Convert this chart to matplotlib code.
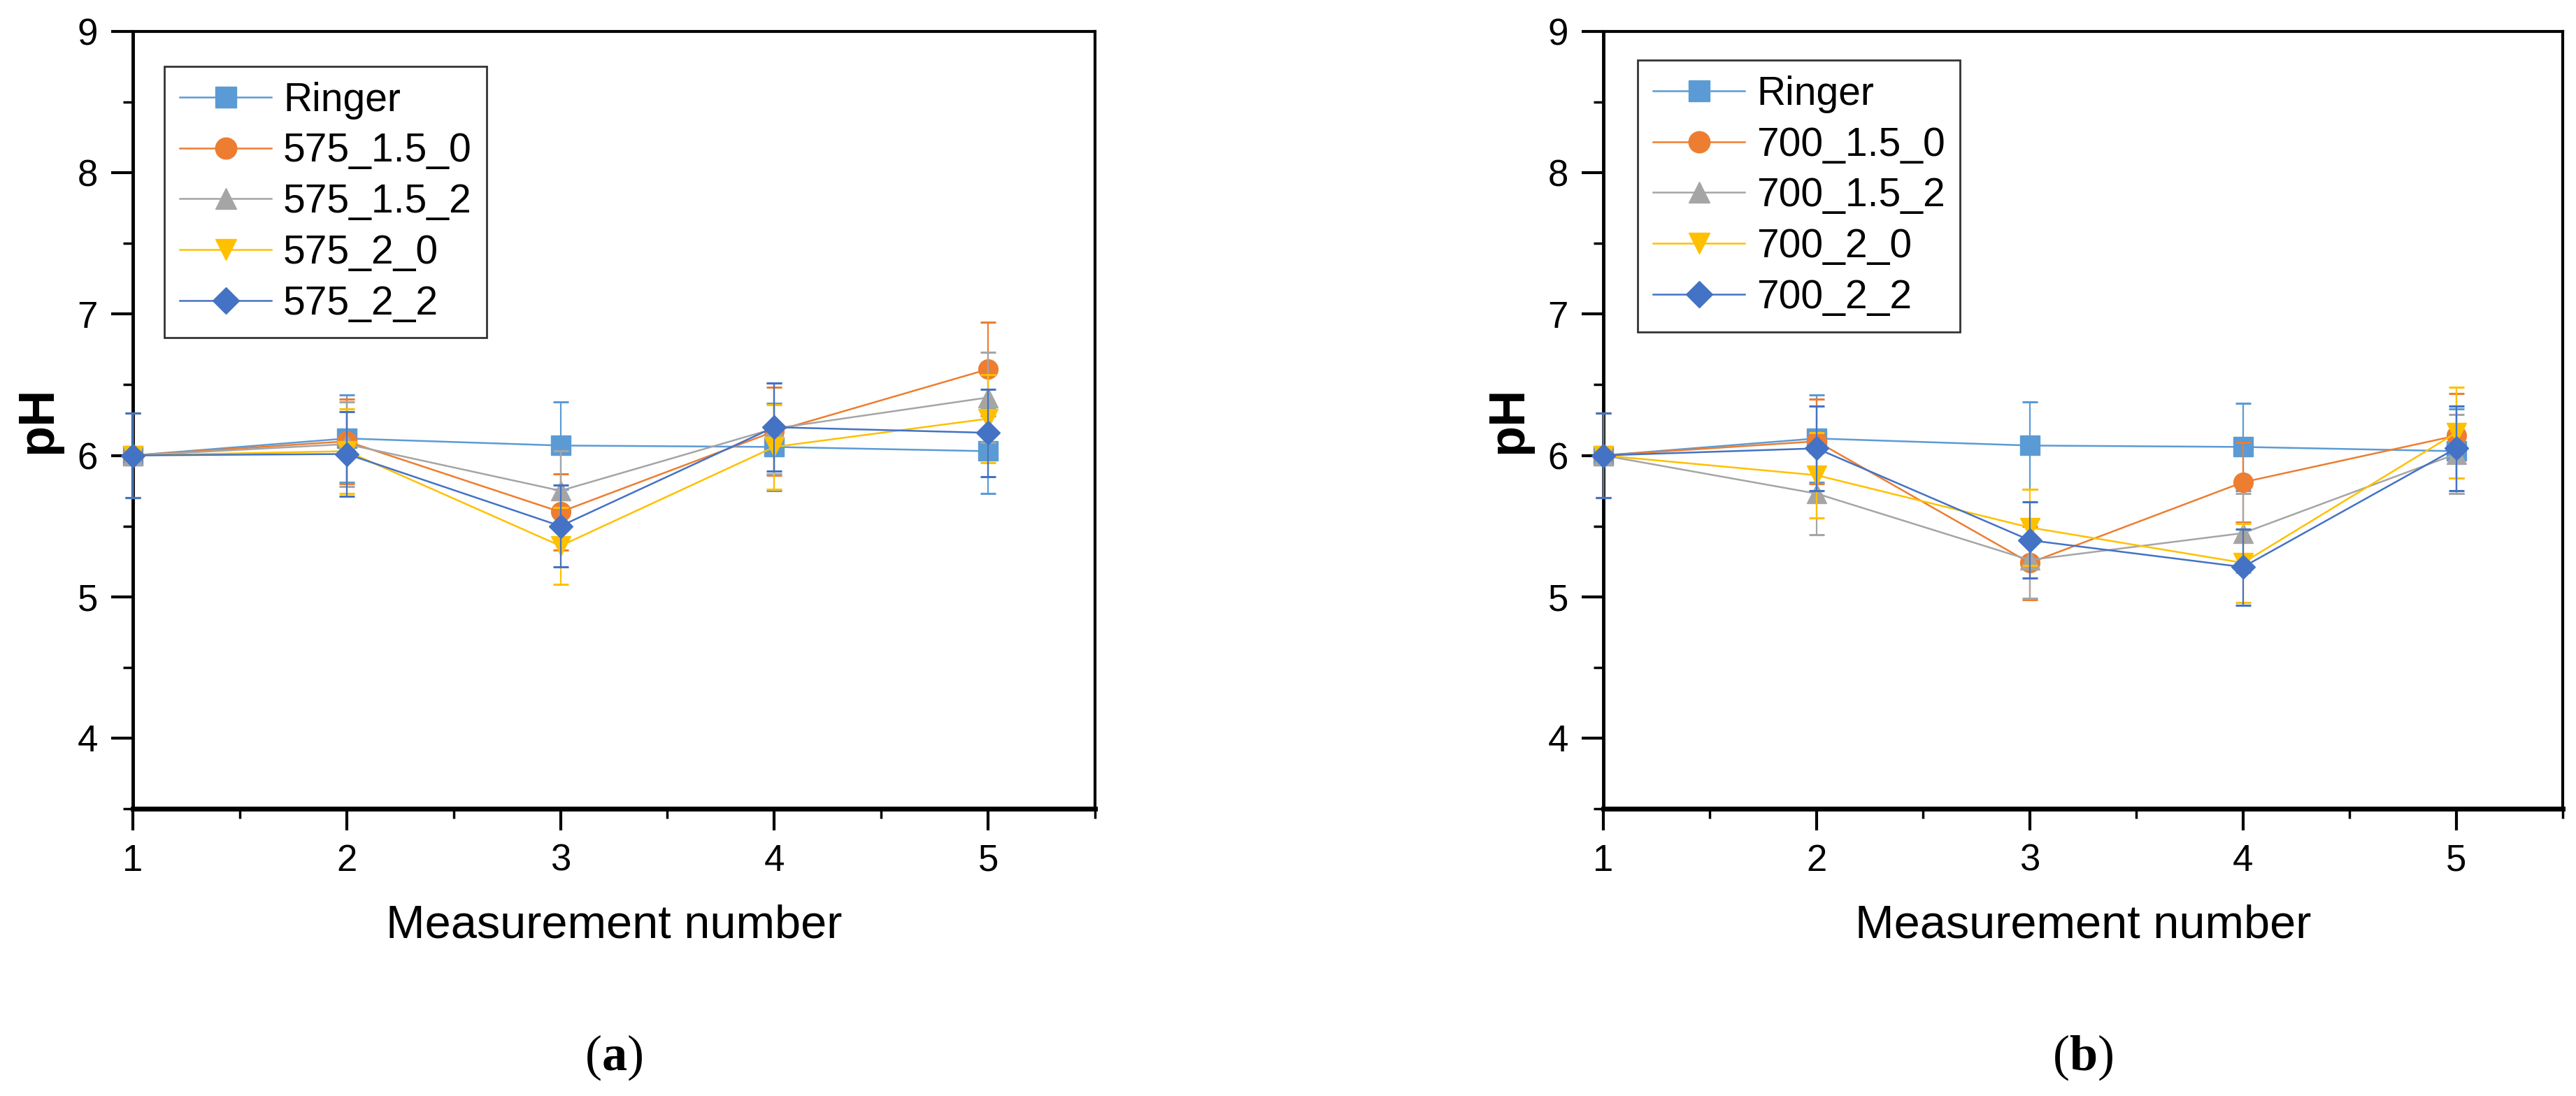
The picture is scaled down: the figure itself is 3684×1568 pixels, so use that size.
import numpy as np
import matplotlib.pyplot as plt
from matplotlib.ticker import MultipleLocator
from matplotlib.lines import Line2D

plt.rcParams['font.family'] = ['Liberation Sans', 'DejaVu Sans']
plt.rcParams['mathtext.fontset'] = 'custom'
plt.rcParams['mathtext.rm'] = 'Liberation Serif'
plt.rcParams['mathtext.bf'] = 'Liberation Serif:bold'

x = [1, 2, 3, 4, 5]
colors = ['#5B9BD5', '#ED7D31', '#A5A5A5', '#FFC000', '#4472C4']
markers = ['s', 'o', '^', 'v', 'D']

# panel (a)
labels_a = ['Ringer', '575_1.5_0', '575_1.5_2', '575_2_0', '575_2_2']
ringer_a = [6.00, 6.12, 6.07, 6.06, 6.03]
s575_15_0 = [6.00, 6.10, 5.60, 6.17, 6.61]
s575_15_2 = [6.00, 6.08, 5.75, 6.19, 6.41]
s575_2_0 = [6.00, 6.03, 5.36, 6.06, 6.26]
s575_2_2 = [6.00, 6.01, 5.50, 6.20, 6.16]
err_ringer_a = [0.30, 0.31, 0.31, 0.31, 0.30]
err_575_15_0 = [0.30, 0.30, 0.27, 0.31, 0.33]
err_575_15_2 = [0.30, 0.30, 0.28, 0.32, 0.32]
err_575_2_0 = [0.30, 0.30, 0.27, 0.30, 0.31]
err_575_2_2 = [0.30, 0.30, 0.29, 0.31, 0.31]

# panel (b)
labels_b = ['Ringer', '700_1.5_0', '700_1.5_2', '700_2_0', '700_2_2']
ringer_b = [6.00, 6.12, 6.07, 6.06, 6.03]
s700_15_0 = [6.00, 6.10, 5.24, 5.81, 6.14]
s700_15_2 = [6.00, 5.73, 5.26, 5.45, 6.01]
s700_2_0 = [6.00, 5.86, 5.49, 5.24, 6.16]
s700_2_2 = [6.00, 6.05, 5.40, 5.21, 6.05]
err_ringer_b = [0.30, 0.31, 0.31, 0.31, 0.30]
err_700_15_0 = [0.30, 0.30, 0.26, 0.28, 0.30]
err_700_15_2 = [0.30, 0.29, 0.27, 0.28, 0.28]
err_700_2_0 = [0.30, 0.30, 0.27, 0.28, 0.32]
err_700_2_2 = [0.30, 0.30, 0.27, 0.27, 0.30]

series_a = [ringer_a, s575_15_0, s575_15_2, s575_2_0, s575_2_2]
errs_a = [err_ringer_a, err_575_15_0, err_575_15_2, err_575_2_0, err_575_2_2]
series_b = [ringer_b, s700_15_0, s700_15_2, s700_2_0, s700_2_2]
errs_b = [err_ringer_b, err_700_15_0, err_700_15_2, err_700_2_0, err_700_2_2]

fig = plt.figure(figsize=(36.84, 15.68), dpi=100)
ax1 = fig.add_axes([190/3684, 1 - 1157/1568, (1566-190)/3684, (1157-45)/1568])
ax2 = fig.add_axes([2293/3684, 1 - 1157/1568, (3665-2293)/3684, (1157-45)/1568])


def draw(ax, series, errs, labels, legend_pos, tag):
	handles = []
	for k in range(len(series)):
		ms = 20 if markers[k] != 'D' else 17
		ax.errorbar(x, series[k], yerr=errs[k], color=colors[k], marker=markers[k],
			ms=ms, lw=1.8, elinewidth=1.6, capsize=8,
			capthick=2.2, clip_on=False, zorder=3 + k)
		handles.append(Line2D([], [], color=colors[k], marker=markers[k], ms=ms + 2,
			lw=1.8, label=labels[k]))
	ax.set_xlim(1, 5.5)
	ax.set_ylim(3.5, 9)
	ax.xaxis.set_major_locator(MultipleLocator(1))
	ax.xaxis.set_minor_locator(MultipleLocator(0.5))
	ax.yaxis.set_major_locator(MultipleLocator(1))
	ax.yaxis.set_minor_locator(MultipleLocator(0.5))
	ax.set_yticks([4, 5, 6, 7, 8, 9])
	ax.tick_params(which='major', direction='out', length=22, width=3, labelsize=38, pad=14)
	ax.tick_params(which='minor', direction='out', length=10, width=2.5)
	for s in ['top', 'right']:
		ax.spines[s].set_linewidth(3)
	ax.spines['left'].set_linewidth(3.5)
	ax.spines['bottom'].set_linewidth(5)
	ax.set_xlabel('Measurement number', fontsize=48, labelpad=26)
	ax.set_ylabel('pH', fontsize=52, fontweight='bold', labelpad=16)
	leg = ax.legend(handles=handles, loc='upper left', bbox_to_anchor=legend_pos, fontsize=41,
		frameon=True, fancybox=False, edgecolor='black', handlelength=2.3,
		labelspacing=0.33, borderpad=0.38, handletextpad=0.3, borderaxespad=0)
	leg.get_frame().set_linewidth(2)
	ax.text(0.5, -0.32, r'$(\mathbf{' + tag + r'})$', transform=ax.transAxes,
		ha='center', va='center', fontsize=52)


draw(ax1, series_a, errs_a, labels_a, (0.033, 0.955), 'a')
draw(ax2, series_b, errs_b, labels_b, (0.036, 0.963), 'b')

fig.savefig('out.png', dpi=100)
